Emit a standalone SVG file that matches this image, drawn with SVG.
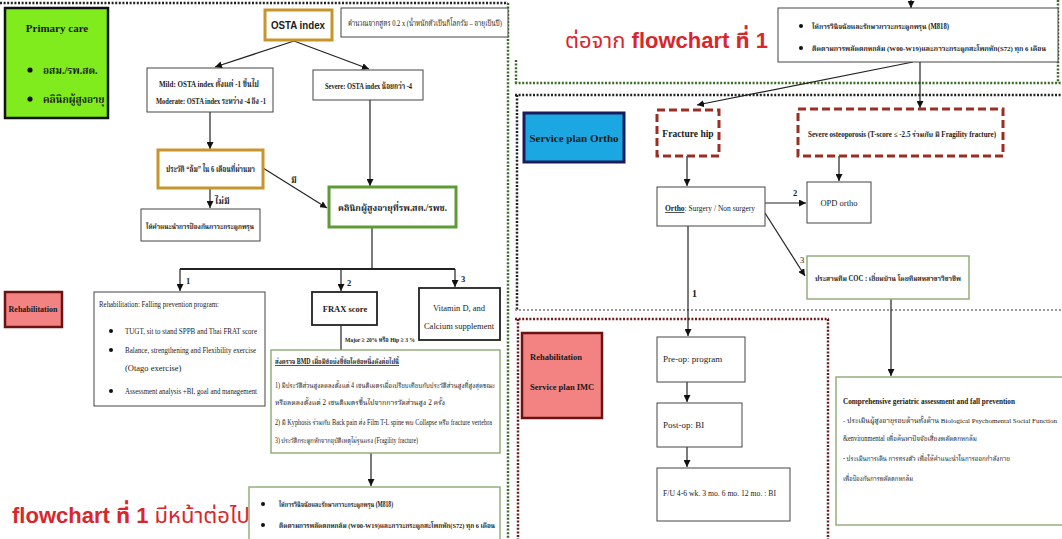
<svg xmlns="http://www.w3.org/2000/svg" width="1062" height="539" viewBox="0 0 1062 539">
<defs>
<marker id="ah" viewBox="0 0 10 10" refX="10" refY="5" markerWidth="7" markerHeight="7" markerUnits="userSpaceOnUse" orient="auto">
<path d="M0,0 L10,5 L0,10 z" fill="#111"/>
</marker>
<style>
.bx{fill:#fff;stroke:#444;stroke-width:1}
.bx2{fill:#fff;stroke:#222;stroke-width:1.8}
.gold{fill:#fff;stroke:#c8952c;stroke-width:3}
.grn{fill:#fff;stroke:#5e9a36;stroke-width:3}
.lg{fill:#fff;stroke:#8caa74;stroke-width:1.4}
.dsh{fill:#fff;stroke:#9a2e24;stroke-width:3;stroke-dasharray:8 4}
.pink{fill:#f38282;stroke:#6b1212;stroke-width:2.5}
.c{stroke:#222;stroke-width:1.2;fill:none}
.ca{stroke:#222;stroke-width:1.2;fill:none;marker-end:url(#ah)}
.dotg{stroke:#3d6b2a;stroke-width:2.5;stroke-dasharray:2 1.6;fill:none}
.dotk{stroke:#222;stroke-width:2.5;stroke-dasharray:2 1.6;fill:none}
.dotl{stroke:#9a9a9a;stroke-width:2;stroke-dasharray:2 2;fill:none}
.dotr{stroke:#6e1c1c;stroke-width:2.5;stroke-dasharray:2 1.6;fill:none}
text{font-family:"Liberation Serif","Noto Serif Thai","Noto Sans Thai","Tlwg Typo","Garuda","Loma",serif;fill:#1a1a1a}
.s{font-size:8.5px}
.x{font-size:7.5px}
.xx{font-size:7px}
.b{font-weight:bold}
.m{text-anchor:middle}
.red{font-family:"Liberation Sans","Noto Sans Thai","Garuda","Loma",sans-serif;fill:#d9262c;font-size:22px}
.sans{font-family:"Liberation Sans","Noto Sans Thai",sans-serif}
</style>
</defs>

<!-- panel borders -->
<g id="borders">
<path class="dotk" d="M0,3 H508"/>
<path class="dotg" d="M508,3 V539"/>
<path class="dotg" d="M1058,0 V83"/>
<path class="dotg" d="M516,60 V83"/>
<path class="dotg" d="M515,83 H1062"/>
<path class="dotk" d="M515,95 H1062"/>
<path class="dotk" d="M517,95 V310"/>
<path class="dotl" d="M515,310 H1062"/>
<path class="dotr" d="M515,319 H829"/>
<path class="dotr" d="M518,319 V539"/>
<path class="dotr" d="M828,319 V539"/>
</g>

<!-- connectors -->
<g id="connectors">
<path class="ca" d="M294,41 L215,67"/>
<path class="ca" d="M294,41 L369,69"/>
<path class="ca" d="M210,112 V149"/>
<path class="ca" d="M370,100 V186"/>
<path class="ca" d="M210,188 V208"/>
<path class="ca" d="M263,168 L327,208"/>
<path class="c" d="M372,227 V269"/>
<path class="c" style="stroke-width:2" d="M180,269 H455"/>
<path class="ca" d="M180,269 V291"/>
<path class="ca" d="M341,269 V291"/>
<path class="ca" d="M455,269 V287"/>
<path class="c" d="M341,325 V350"/>
<path class="ca" d="M371,453 V486"/>
<path class="ca" d="M911,0 V8"/>
<path class="ca" d="M913,62 L697,105"/>
<path class="ca" d="M920,62 V108"/>
<path class="ca" d="M687,156 V186"/>
<path class="ca" d="M839,156 V181"/>
<path class="ca" d="M765,203 H806"/>
<path class="ca" d="M765,213 L805,276"/>
<path class="ca" d="M688,226 V336"/>
<path class="ca" d="M891,299 V376"/>
<path class="ca" d="M687,382 V402"/>
<path class="ca" d="M687,447 V467"/>
</g>

<g id="primary-care">
<rect x="5" y="8" width="103" height="110" fill="#80ec1e" stroke="#111" stroke-width="2.5"/>
<text class="b m" style="font-size:11px" x="57" y="32">Primary care</text>
<circle cx="30" cy="70" r="2.6" fill="#111"/>
<circle cx="30" cy="99" r="2.6" fill="#111"/>
<text class="b" style="font-size:10px" x="43" y="74">อสม./รพ.สต.</text>
<text class="b" style="font-size:10px" x="43" y="103">คลินิกผู้สูงอายุ</text>
</g>

<g id="osta">
<rect class="gold" x="265" y="10" width="67" height="30"/>
<text class="sans b m" style="font-size:11px" x="298" y="29" textLength="54" lengthAdjust="spacingAndGlyphs">OSTA index</text>
</g>

<g id="formula">
<rect class="bx" x="341" y="8" width="167" height="29"/>
<text style="font-size:8px" x="348" y="26" textLength="154" lengthAdjust="spacingAndGlyphs">คำนวณจากสูตร 0.2 x (น้ำหนักตัวเป็นกิโลกรัม – อายุเป็นปี)</text>
</g>

<g id="mild">
<rect class="bx" x="147" y="68" width="126" height="44"/>
<text class="s b" x="159" y="87" textLength="100" lengthAdjust="spacingAndGlyphs">Mild: OSTA index ตั้งแต่ -1 ขึ้นไป</text>
<text class="s b" x="156" y="104" textLength="110" lengthAdjust="spacingAndGlyphs">Moderate: OSTA index ระหว่าง -4 ถึง -1</text>
</g>

<g id="severe">
<rect class="bx" x="313" y="70" width="110" height="30"/>
<text class="s b" x="325" y="89" textLength="87" lengthAdjust="spacingAndGlyphs">Severe: OSTA index น้อยกว่า -4</text>
</g>

<g id="fall-history">
<rect class="gold" x="158" y="150" width="105" height="38"/>
<text class="s b" x="166" y="172" textLength="89" lengthAdjust="spacingAndGlyphs">ประวัติ “ล้ม” ใน 6 เดือนที่ผ่านมา</text>
</g>

<g id="advice">
<rect class="bx" x="141" y="209" width="119" height="32"/>
<text class="x b" x="146" y="229" textLength="108" lengthAdjust="spacingAndGlyphs">ให้คำแนะนำการป้องกันภาวะกระดูกพรุน</text>
</g>

<g id="clinic">
<rect class="grn" x="329" y="187" width="127" height="40"/>
<text class="b" style="font-size:9.5px" x="338" y="211" textLength="109" lengthAdjust="spacingAndGlyphs">คลินิกผู้สูงอายุที่รพ.สต./รพช.</text>
</g>

<g id="rehab-label">
<rect class="pink" x="5" y="292" width="57" height="35"/>
<text class="b m" style="font-size:8px" x="33" y="312">Rehabilitation</text>
</g>

<g id="rehab-program">
<rect class="bx" x="94" y="292" width="171" height="114"/>
<text class="x" x="99" y="307" textLength="120" lengthAdjust="spacingAndGlyphs">Rehabilitation: Falling prevention program:</text>
<circle cx="111" cy="331" r="2" fill="#111"/>
<circle cx="111" cy="350" r="2" fill="#111"/>
<circle cx="111" cy="391" r="2" fill="#111"/>
<text class="x" x="125" y="334" textLength="132" lengthAdjust="spacingAndGlyphs">TUGT, sit to stand SPPB and Thai  FRAT score</text>
<text class="x" x="125" y="353" textLength="131" lengthAdjust="spacingAndGlyphs">Balance, strengthening and Flexibility exercise</text>
<text class="s" x="125" y="371">(Otago exercise)</text>
<text class="x" x="125" y="394" textLength="132" lengthAdjust="spacingAndGlyphs">Assessment analysis +BI, goal and management</text>
</g>

<g id="frax">
<rect class="bx2" x="312" y="292" width="65" height="33"/>
<text class="s b m" x="345" y="312">FRAX score</text>
</g>

<g id="vitd">
<rect class="bx2" x="419" y="288" width="81" height="52"/>
<text class="s m" x="459" y="311">Vitamin D, and</text>
<text class="s m" x="459" y="329">Calcium supplement</text>
</g>

<g id="bmd">
<rect class="lg" x="271" y="350" width="229" height="103"/>
<text class="x b" x="275" y="364" textLength="124" lengthAdjust="spacingAndGlyphs" text-decoration="underline">ส่งตรวจ BMD เมื่อมีข้อบ่งชี้ข้อใดข้อหนึ่งดังต่อไปนี้</text>
<text class="x" x="275" y="388" textLength="220" lengthAdjust="spacingAndGlyphs">1) มีประวัติส่วนสูงลดลงตั้งแต่ 4 เซนติเมตรเมื่อเปรียบเทียบกับประวัติส่วนสูงที่สูงสุดขณะ</text>
<text class="x" x="275" y="405" textLength="170" lengthAdjust="spacingAndGlyphs">หรือลดลงตั้งแต่ 2 เซนติเมตรขึ้นไปจากการวัดส่วนสูง 2 ครั้ง</text>
<text class="x" x="275" y="425" textLength="217" lengthAdjust="spacingAndGlyphs">2) มี Kyphosis ร่วมกับ Back pain ส่ง Film T-L spine พบ Collapse หรือ fracture vertebra</text>
<text class="x" x="275" y="443" textLength="143" lengthAdjust="spacingAndGlyphs">3) ประวัติกระดูกหักจากอุบัติเหตุไม่รุนแรง (Fragility fracture)</text>
</g>

<g id="diagnosis-left">
<rect class="lg" x="249" y="487" width="251" height="60"/>
<circle cx="263" cy="504" r="2" fill="#111"/>
<circle cx="263" cy="525" r="2" fill="#111"/>
<text class="x b" x="279" y="507" textLength="114" lengthAdjust="spacingAndGlyphs">ให้การวินิจฉัยและรักษาภาวะกระดูกพรุน (M818)</text>
<text class="xx b" x="279" y="528" textLength="216" lengthAdjust="spacingAndGlyphs">ติดตามการพลัดตกหกล้ม (W00-W19)และภาวะกระดูกสะโพกหัก(S72) ทุก 6 เดือน</text>
</g>

<g id="note-left">
<text class="red" x="12" y="523"><tspan font-weight="bold">flowchart ที่ 1</tspan> มีหน้าต่อไป</text>
</g>

<g id="note-right">
<text class="red" x="565" y="48"><tspan>ต่อจาก</tspan> <tspan font-weight="bold">flowchart ที่ 1</tspan></text>
</g>

<g id="diagnosis-right">
<rect class="bx" x="778" y="8" width="280" height="54"/>
<circle cx="801" cy="26" r="2" fill="#111"/>
<circle cx="801" cy="48" r="2" fill="#111"/>
<text class="x b" x="812" y="29" textLength="137" lengthAdjust="spacingAndGlyphs">ให้การวินิจฉัยและรักษาภาวะกระดูกพรุน (M818)</text>
<text class="xx b" x="812" y="51" textLength="234" lengthAdjust="spacingAndGlyphs">ติดตามการพลัดตกหกล้ม (W00-W19)และภาวะกระดูกสะโพกหัก(S72) ทุก 6 เดือน</text>
</g>

<g id="service-ortho">
<rect x="524" y="113" width="100" height="49" fill="#1ba8e2" stroke="#1b1b5c" stroke-width="3"/>
<text class="b m" style="font-size:11px" x="574" y="142">Service plan Ortho</text>
</g>

<g id="fracture-hip">
<rect class="dsh" x="657" y="110" width="62" height="46"/>
<text class="b m" style="font-size:9.5px" x="688" y="137">Fracture hip</text>
</g>

<g id="severe-osteo">
<rect class="dsh" x="798" y="109" width="205" height="47"/>
<text class="x b" x="808" y="137" textLength="188" lengthAdjust="spacingAndGlyphs">Severe osteoporosis (T-score ≤ -2.5 ร่วมกับ มี Fragility fracture)</text>
</g>

<g id="ortho">
<rect class="bx" x="657" y="187" width="108" height="39"/>
<text class="x" x="665" y="211" textLength="90" lengthAdjust="spacingAndGlyphs"><tspan font-weight="bold" text-decoration="underline">Ortho</tspan>: Surgery / Non surgery</text>
</g>

<g id="opd">
<rect class="bx" x="807" y="182" width="64" height="41"/>
<text class="s m" x="839" y="206">OPD ortho</text>
</g>

<g id="coc">
<rect class="lg" x="807" y="256" width="162" height="43"/>
<text class="x b" x="815" y="281" textLength="146" lengthAdjust="spacingAndGlyphs">ประสานทีม COC : เยี่ยมบ้าน โดยทีมสหสาขาวิชาชีพ</text>
</g>

<g id="service-imc">
<rect class="pink" x="522" y="333" width="80" height="85"/>
<text class="b" style="font-size:8.5px" x="530" y="360">Rehabilitation</text>
<text class="b" style="font-size:8.5px" x="530" y="390">Service plan IMC</text>
</g>

<g id="preop">
<rect class="bx" x="657" y="337" width="88" height="45"/>
<text style="font-size:9px" x="663" y="362">Pre-op: program</text>
</g>

<g id="postop">
<rect class="bx" x="657" y="403" width="85" height="44"/>
<text style="font-size:9px" x="663" y="428">Post-op: BI</text>
</g>

<g id="followup">
<rect class="bx" x="657" y="468" width="133" height="53"/>
<text style="font-size:8.5px" x="663" y="496" textLength="113" lengthAdjust="spacingAndGlyphs">F/U 4-6 wk.  3 mo.  6 mo. 12 mo. : BI</text>
</g>

<g id="cga">
<rect class="lg" x="836" y="377" width="230" height="148"/>
<text class="x b" x="843" y="404" textLength="172" lengthAdjust="spacingAndGlyphs">Comprehensive geriatric assessment and fall prevention</text>
<text class="xx" x="843" y="423" textLength="214" lengthAdjust="spacingAndGlyphs">- ประเมินผู้สูงอายุรอบด้านทั้งด้าน Biological Psychomental Social Function</text>
<text class="x" x="843" y="441" textLength="134" lengthAdjust="spacingAndGlyphs">&amp;environmental เพื่อค้นหาปัจจัยเสี่ยงพลัดตกหกล้ม</text>
<text class="x" x="843" y="461" textLength="167" lengthAdjust="spacingAndGlyphs">- ประเมินการเดิน การทรงตัว เพื่อให้คำแนะนำในการออกกำลังกาย</text>
<text class="x" x="843" y="481" textLength="70" lengthAdjust="spacingAndGlyphs">เพื่อป้องกันการพลัดตกหกล้ม</text>
</g>

<!-- labels on connectors -->
<g id="labels">
<text class="s b" x="215" y="204">ไม่มี</text>
<text class="s b" x="291" y="183">มี</text>
<text class="s b" x="186" y="284">1</text>
<text class="s b" x="347" y="286">2</text>
<text class="s b" x="461" y="282">3</text>
<text class="b" style="font-size:7px" x="345" y="342" textLength="70" lengthAdjust="spacingAndGlyphs">Major ≥ 20% หรือ Hip ≥ 3 %</text>
<text class="s b" x="793" y="196">2</text>
<text class="s" x="800" y="263">3</text>
<text class="b" style="font-size:10px" x="692" y="297">1</text>
</g>
</svg>
